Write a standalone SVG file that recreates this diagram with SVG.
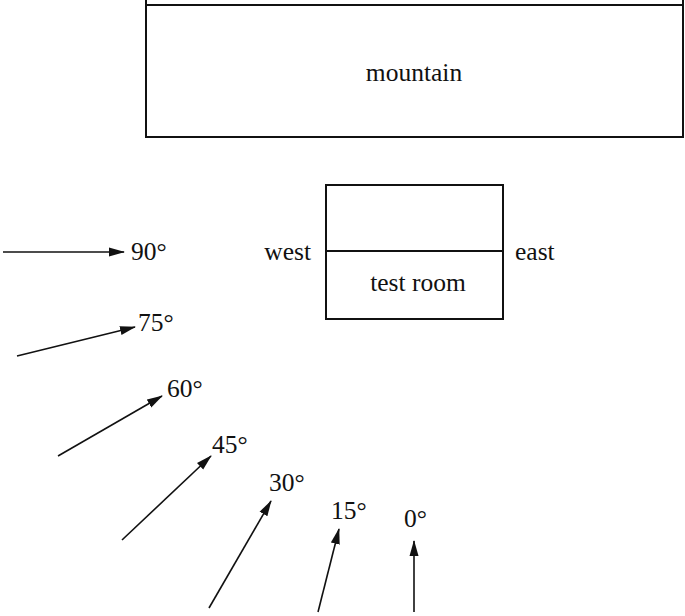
<svg xmlns="http://www.w3.org/2000/svg" width="685" height="616" viewBox="0 0 685 616">
<style>
.box{fill:none;stroke:#111;stroke-width:2}
.ln{stroke:#111;stroke-width:2;fill:none}
.arr{stroke:#111;stroke-width:1.6;fill:none;marker-end:url(#ah)}
</style>
<defs>
<marker id="ah" markerWidth="16" markerHeight="10" refX="15" refY="5" orient="auto" markerUnits="userSpaceOnUse">
<path d="M0,0.5 L16,5 L0,9.5 Z" fill="#111"/>
</marker>
</defs>
<rect width="685" height="616" fill="#fff"/>
<g font-family="'Liberation Serif', 'DejaVu Serif', serif" font-size="25.5" fill="#111">
<g id="mountain">
<path class="box" d="M146,0 V137 H683 V0 M146,5 H683"/>
<text x="414" y="81" text-anchor="middle">mountain</text>
</g>
<g id="test-room">
<rect class="box" x="326" y="185" width="177" height="134"/>
<line class="ln" x1="326" y1="251" x2="503" y2="251"/>
<text x="418" y="291" text-anchor="middle">test room</text>
</g>
<g id="west"><text x="311" y="260" text-anchor="end">west</text></g>
<g id="east"><text x="515" y="260">east</text></g>
<g id="connectors">
<line class="arr" x1="3" y1="252" x2="124" y2="252"/>
<line class="arr" x1="17" y1="356" x2="135" y2="327"/>
<line class="arr" x1="58" y1="456" x2="162" y2="396"/>
<line class="arr" x1="122" y1="540" x2="211" y2="456"/>
<line class="arr" x1="209" y1="608" x2="271" y2="501"/>
<line class="arr" x1="318" y1="612" x2="339" y2="529"/>
<line class="arr" x1="414" y1="612" x2="414" y2="541"/>
</g>
<g id="labels">
<text x="131" y="260">90°</text>
<text x="138" y="331">75°</text>
<text x="167" y="397">60°</text>
<text x="212" y="453">45°</text>
<text x="269" y="491">30°</text>
<text x="331" y="519">15°</text>
<text x="404" y="527">0°</text>
</g>
</g>
</svg>
